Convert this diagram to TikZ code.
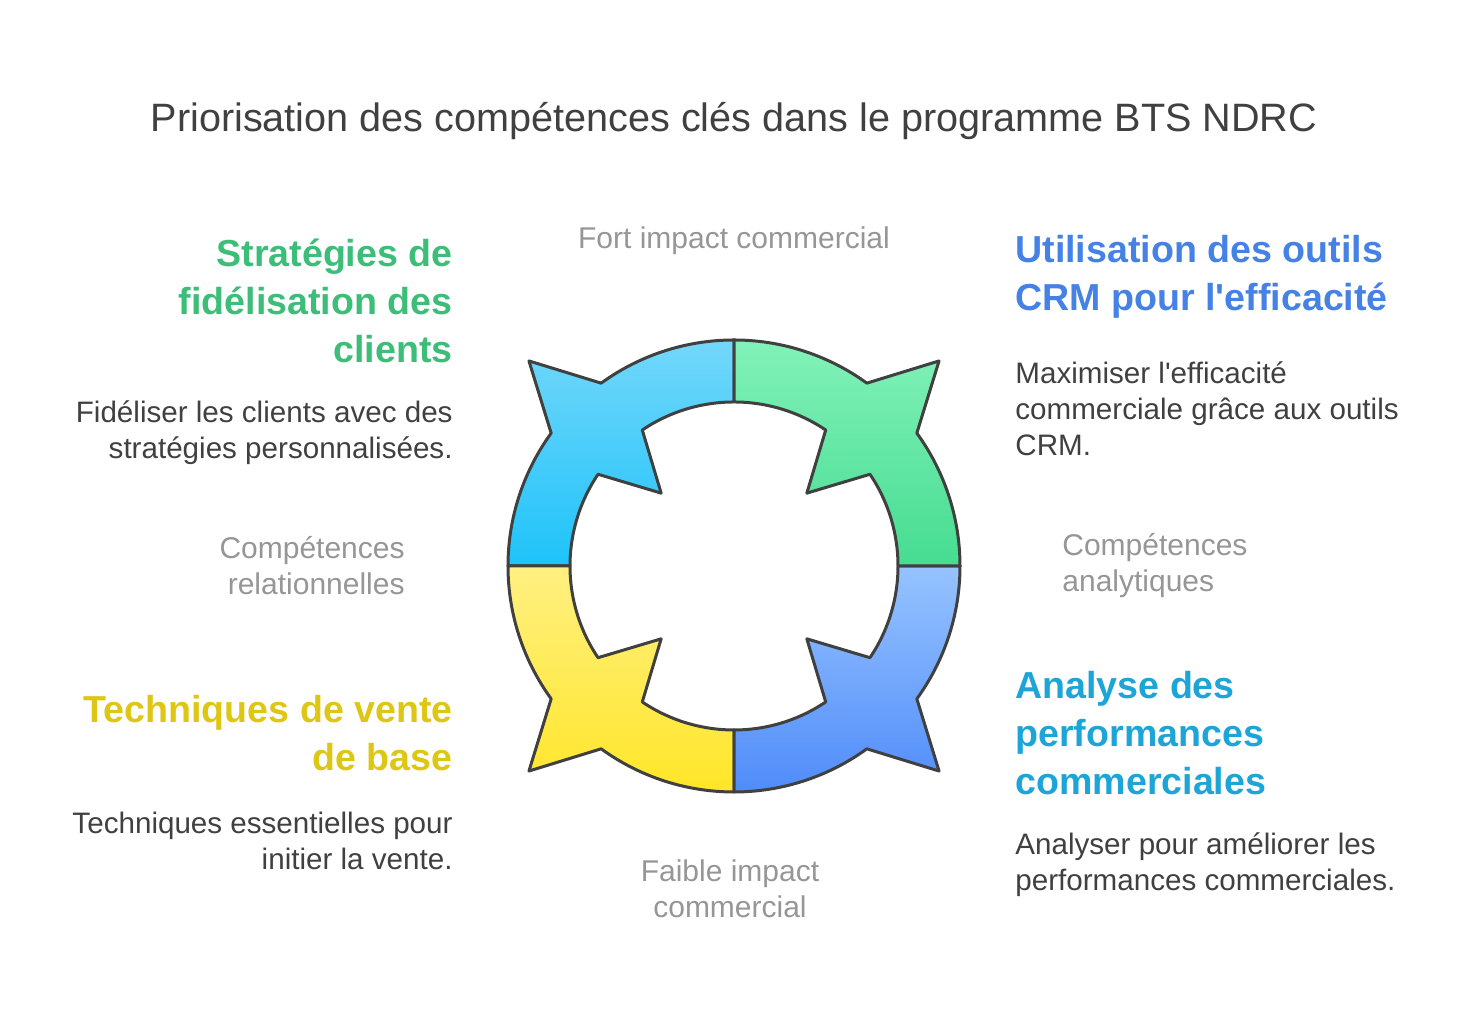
\documentclass[tikz,border=0pt]{standalone}
\usepackage{fontspec}
\setmainfont{Liberation Sans}
\usepackage{tikz}
\usetikzlibrary{positioning}

\definecolor{inkC}{RGB}{64,64,64}
\definecolor{greyC}{RGB}{150,150,150}
\definecolor{greenC}{RGB}{60,190,120}
\definecolor{yellowC}{RGB}{222,198,20}
\definecolor{blueC}{RGB}{70,130,230}
\definecolor{cyanC}{RGB}{30,165,215}
\definecolor{skyTop}{RGB}{115,215,250}
\definecolor{skyBot}{RGB}{30,195,250}
\definecolor{mintTop}{RGB}{130,242,185}
\definecolor{mintBot}{RGB}{70,220,145}
\definecolor{azTop}{RGB}{150,195,255}
\definecolor{azBot}{RGB}{80,140,250}
\definecolor{sunTop}{RGB}{255,240,130}
\definecolor{sunBot}{RGB}{255,230,40}

% one quarter of the ring, turned by #1 degrees
\newcommand\petal[3]{%
  \draw[petal, top color=#2, bottom color=#3]
    ([shift={(#1+90:226)}]c) arc[start angle=#1+90, end angle=#1+126, radius=226]
    -- ([shift={(#1+135:290)}]c) -- ([shift={(#1+144:226)}]c)
    arc[start angle=#1+144, end angle=#1+180, radius=226]
    -- ([shift={(#1+180:164)}]c)
    arc[start angle=#1+180, end angle=#1+146, radius=164]
    -- ([shift={(#1+135:103)}]c) -- ([shift={(#1+124:164)}]c)
    arc[start angle=#1+124, end angle=#1+90, radius=164] -- cycle;}

\begin{document}
\begin{tikzpicture}[x=0.5pt, y=0.5pt,
    petal/.style={draw=inkC, line width=1.5pt, line join=round},
    head/.style={font=\fontsize{18.8}{24}\selectfont\bfseries, inner sep=0pt},
    body/.style={font=\fontsize{14.8}{18}\selectfont, text=inkC, inner sep=0pt},
    axis/.style={font=\fontsize{15}{18}\selectfont, text=greyC, inner sep=0pt},
]
\useasboundingbox (0,0) rectangle (1469,1036);
\coordinate (c) at (734,470);

% ring
\petal{0}{skyTop}{skyBot}
\petal{90}{sunTop}{sunBot}
\petal{180}{azTop}{azBot}
\petal{270}{mintTop}{mintBot}

% title
\node[font=\fontsize{19.8}{22}\selectfont, text=inkC] (title) at (734,915)
  {Priorisation des compétences clés dans le programme BTS NDRC};

% axis labels
\node[axis] (high) at (734,795) {Fort impact commercial};
\node[axis, align=center] (low) at (730,147) {Faible impact\\commercial};
\node[axis, align=right, anchor=east] (rel) at (405,470) {Compétences\\relationnelles};
\node[axis, align=left, anchor=west] (ana) at (1062,470) {Compétences\\analytiques};

% left side
\node[head, text=greenC, align=right, anchor=east] (fid) at (453,735)
  {Stratégies de\\fidélisation des\\clients};
\node[body, align=right, anchor=east] (fidtxt) at (453,603)
  {Fidéliser les clients avec des\\stratégies personnalisées.};
\node[head, text=yellowC, align=right, anchor=east] (vente) at (453,303)
  {Techniques de vente\\de base};
\node[body, align=right, anchor=east] (ventetxt) at (453,195)
  {Techniques essentielles pour\\initier la vente.};

% right side
\node[head, text=blueC, align=left, anchor=west] (crm) at (1015,759)
  {Utilisation des outils\\CRM pour l\textquotesingle efficacité};
\node[body, align=left, anchor=west] (crmtxt) at (1015,627)
  {Maximiser l\textquotesingle efficacité\\commerciale grâce aux outils\\CRM.};
\node[head, text=cyanC, align=left, anchor=west] (perf) at (1015,303)
  {Analyse des\\performances\\commerciales};
\node[body, align=left, anchor=west] (perftxt) at (1015,171)
  {Analyser pour améliorer les\\performances commerciales.};
\end{tikzpicture}
\end{document}
